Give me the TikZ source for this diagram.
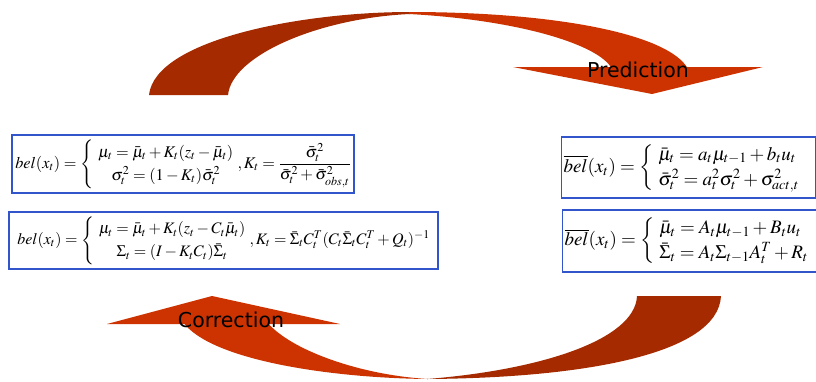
\documentclass[tikz,border=0pt]{standalone}
\usepackage{amsmath}
\usepackage{mathptmx}
\usepackage[no-math]{fontspec}
\newfontfamily\labelfont{DejaVu Sans}
\usetikzlibrary{calc}

\definecolor{arrowdark}{RGB}{165,42,0}
\definecolor{arrowlight}{RGB}{204,51,0}
\definecolor{boxblue}{RGB}{51,85,204}

\begin{document}
\begin{tikzpicture}[x=1pt,y=-1pt,
  belbox/.style={draw=boxblue, line width=1.1pt, inner sep=0pt},
  steplabel/.style={anchor=base, inner sep=0pt, font=\labelfont\fontsize{20.5}{24}\selectfont}]
\useasboundingbox (0,0) rectangle (816,381);

% prediction arrow (top)
\fill[arrowdark] (149,95) .. controls (155,40) and (300,12) .. (410,12)
  -- (410,14) .. controls (320,18) and (232,55) .. (228,95) -- cycle;
\fill[arrowlight] (409,12) .. controls (560,12) and (670,35) .. (688,69)
  -- (612,69) .. controls (600,45) and (520,20) .. (409,14) -- cycle;
\fill[arrowlight] (513,67) -- (763,67) -- (652,94) -- cycle;

% correction arrow (bottom)
\fill[arrowdark] (637,296) -- (721,296) .. controls (718,355) and (580,378) .. (427,379)
  .. controls (540,370) and (635,340) .. (637,296) -- cycle;
\fill[arrowlight] (183,322) .. controls (210,360) and (330,378) .. (428,379)
  .. controls (360,375) and (290,350) .. (267,322) -- cycle;
\fill[arrowlight] (107,324) -- (212,296) -- (340,324) -- cycle;

\node[steplabel, name=prediction] at (638,77) {Prediction};
\node[steplabel, name=correction] at (231,327) {Correction};

% correction step
\node[belbox, name=corr_kf, minimum width=342pt, minimum height=58pt, font=\fontsize{16.3}{23}\selectfont] at (183,164)
  {$bel(x_t)=\left\{\begin{array}{c}\mu_t=\bar{\mu}_t+K_t(z_t-\bar{\mu}_t)\\ \sigma_t^2=(1-K_t)\bar{\sigma}_t^2\end{array}\right.\!\!,K_t=\dfrac{\bar{\sigma}_t^2}{\bar{\sigma}_t^2+\bar{\sigma}_{obs,t}^2}$};
\node[belbox, name=corr_mkf, minimum width=429pt, minimum height=57pt, font=\fontsize{16}{23}\selectfont] at (223.5,240.5)
  {$bel(x_t)=\left\{\begin{array}{c}\mu_t=\bar{\mu}_t+K_t(z_t-C_t\bar{\mu}_t)\\ \Sigma_t=(I-K_tC_t)\bar{\Sigma}_t\end{array}\right.\!\!,K_t=\bar{\Sigma}_tC_t^T(C_t\bar{\Sigma}_tC_t^T+Q_t)^{-1}$};

% prediction step
\node[belbox, name=pred_kf, anchor=west, inner xsep=2pt, text width=250pt, align=left, minimum height=61pt, font=\fontsize{19}{25}\selectfont] at (561,167.5)
  {$\overline{bel}(x_t)=\left\{\begin{array}{l}\bar{\mu}_t=a_t\mu_{t-1}+b_tu_t\\ \bar{\sigma}_t^2=a_t^2\sigma_t^2+\sigma_{act,t}^2\end{array}\right.$};
\node[belbox, name=pred_mkf, anchor=west, inner xsep=2pt, text width=250pt, align=left, minimum height=62pt, font=\fontsize{19}{25}\selectfont] at (562,241)
  {$\overline{bel}(x_t)=\left\{\begin{array}{l}\bar{\mu}_t=A_t\mu_{t-1}+B_tu_t\\ \bar{\Sigma}_t=A_t\Sigma_{t-1}A_t^T+R_t\end{array}\right.$};
\end{tikzpicture}
\end{document}
